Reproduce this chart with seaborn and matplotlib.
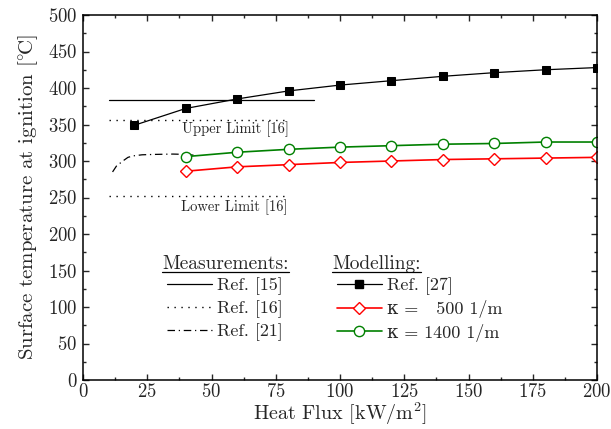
import numpy as np
import pandas as pd
import matplotlib
matplotlib.use("Agg")
import matplotlib.pyplot as plt
import seaborn as sns
from matplotlib.ticker import MultipleLocator
from matplotlib.lines import Line2D

# ---- data ----
flux_model = [20, 40, 60, 80, 100, 120, 140, 160, 180, 200]
ref27 = [349, 372, 385, 396, 404, 410, 416, 421, 425, 428]
flux_kappa = [40, 60, 80, 100, 120, 140, 160, 180, 200]
kappa500 = [286, 292, 295, 298, 300, 302, 303, 304, 305]
kappa1400 = [306, 312, 316, 319, 321, 323, 324, 326, 326]

ref15_x = [10, 90]
ref15_y = [383, 383]
ref16_x = [10, 79]
ref16_upper = [356, 356]
ref16_lower = [252, 252]
ref21_x = [11.5, 13, 15.5, 17.5, 19.5, 23, 27.5, 35, 40, 43]
ref21_y = [285, 293, 300, 305, 307, 308.5, 309, 309.5, 309, 308]

sns.set_theme(style="ticks")
plt.rcParams['font.family'] = 'serif'
plt.rcParams['font.serif'] = ['cmr10', 'DejaVu Serif']
plt.rcParams['mathtext.fontset'] = 'cm'
plt.rcParams['axes.formatter.use_mathtext'] = True
plt.rcParams['axes.unicode_minus'] = False
FAM = ['cmr10', 'DejaVu Serif']

fig = plt.figure(figsize=(6.11, 4.29), dpi=100)
ax = fig.add_axes([83/611, 1-380/429, 514/611, 365/429])

DOT = (0, (1, 4))
DASHDOT = (0, (6, 3, 1, 3))

# measurements
sns.lineplot(x=ref15_x, y=ref15_y, ax=ax, color='black', lw=0.9)
sns.lineplot(x=ref16_x, y=ref16_upper, ax=ax, color='black', lw=1.0, linestyle=DOT)
sns.lineplot(x=ref16_x, y=ref16_lower, ax=ax, color='black', lw=1.0, linestyle=DOT)
sns.lineplot(x=ref21_x, y=ref21_y, ax=ax, color='black', lw=0.9, linestyle=DASHDOT, sort=False)

# modelling
sns.lineplot(x=flux_model, y=ref27, ax=ax, color='black', lw=0.9, marker='s',
             markersize=5.5, markerfacecolor='black', markeredgecolor='black')
sns.lineplot(x=flux_kappa, y=kappa500, ax=ax, color='red', lw=1.2, marker='D',
             markersize=6.3, markerfacecolor='white', markeredgecolor='red', markeredgewidth=1.0)
sns.lineplot(x=flux_kappa, y=kappa1400, ax=ax, color='green', lw=1.2, marker='o',
             markersize=7.4, markerfacecolor='white', markeredgecolor='green', markeredgewidth=1.0)

ax.text(59.5, 344, 'Upper Limit [16]', ha='center', va='center', fontsize=10.5)
ax.text(59, 237, 'Lower Limit [16]', ha='center', va='center', fontsize=10.5)

ax.set_xlim(0, 200)
ax.set_ylim(0, 500)
ax.xaxis.set_major_locator(MultipleLocator(25))
ax.xaxis.set_minor_locator(MultipleLocator(12.5))
ax.yaxis.set_major_locator(MultipleLocator(50))
ax.yaxis.set_minor_locator(MultipleLocator(25))
ax.tick_params(which='both', direction='in', top=True, right=True, labelsize=13.5, pad=4)
ax.tick_params(axis='x', which='both', pad=2.5)
ax.tick_params(which='major', length=4, width=1)
ax.tick_params(which='minor', length=2.5, width=1)
for s in ax.spines.values():
    s.set_linewidth(1.1)
    s.set_color('black')

ax.set_xlabel(r'Heat Flux [kW/m$^2$]', fontsize=14.5, labelpad=-1)
ax.set_ylabel(r'Surface temperature at ignition [$^{\circ}\!\mathrm{C}$]', fontsize=15, labelpad=6)

# legend titles (underlined)
t1 = ax.text(0.154, 0.305, 'Measurements:', transform=ax.transAxes, fontsize=14, va='baseline', ha='left')
t2 = ax.text(0.485, 0.305, 'Modelling:', transform=ax.transAxes, fontsize=14, va='baseline', ha='left')

h_meas = [Line2D([], [], color='black', lw=0.9),
          Line2D([], [], color='black', lw=1.0, linestyle=DOT),
          Line2D([], [], color='black', lw=0.9, linestyle=DASHDOT)]
l_meas = ['Ref. [15]', 'Ref. [16]', 'Ref. [21]']
leg1 = ax.legend(h_meas, l_meas, loc='upper left', bbox_to_anchor=(0.163, 0.282),
                 frameon=False, prop={'family': FAM, 'size': 13}, handlelength=2.5,
                 handletextpad=0.3, labelspacing=0.3, borderpad=0, borderaxespad=0)
ax.add_artist(leg1)

h_mod = [Line2D([], [], color='black', lw=0.9, marker='s', markersize=5.5),
         Line2D([], [], color='red', lw=1.2, marker='D', markersize=6.3, markerfacecolor='white', markeredgecolor='red'),
         Line2D([], [], color='green', lw=1.2, marker='o', markersize=7.4, markerfacecolor='white', markeredgecolor='green')]
l_mod = ['Ref. [27]', 'κ =   500 1/m', 'κ = 1400 1/m']
leg2 = ax.legend(h_mod, l_mod, loc='upper left', bbox_to_anchor=(0.494, 0.282),
                 frameon=False, prop={'family': FAM, 'size': 13}, handlelength=2.5,
                 handletextpad=0.3, labelspacing=0.3, borderpad=0, borderaxespad=0)

# underline the titles
fig.canvas.draw()
r = fig.canvas.get_renderer()
for t in (t1, t2):
    bb = t.get_window_extent(r).transformed(fig.transFigure.inverted())
    yl = bb.y0 + 0.001
    fig.add_artist(Line2D([bb.x0, bb.x1], [yl, yl], color='black', lw=0.9, transform=fig.transFigure))

fig.savefig('out.png', dpi=100)
